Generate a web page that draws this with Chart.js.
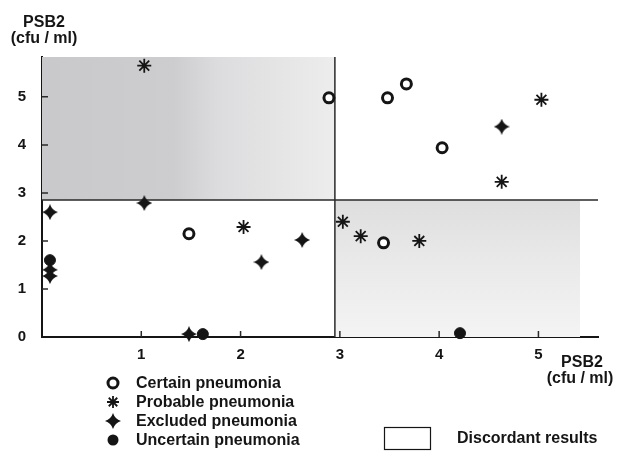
<!DOCTYPE html>
<html>
<head>
<meta charset="utf-8">
<style>
  html, body { margin: 0; padding: 0; background: #fff; }
  #wrap { width: 622px; height: 457px; }
</style>
<script src="https://cdn.jsdelivr.net/npm/chart.js@4/dist/chart.umd.min.js"></script>
</head>
<body>
<div id="wrap"><canvas id="canvasChart" width="622" height="457"></canvas></div>
<script>
// values (PSB2 vs PSB2, cfu/ml)
var certainX = [2.89, 3.48, 3.67, 4.03, 1.48, 3.44];
var certainY = [4.98, 4.98, 5.27, 3.94, 2.15, 1.96];
var probableX = [1.03, 5.03, 4.63, 2.03, 3.03, 3.21, 3.80];
var probableY = [5.65, 4.94, 3.23, 2.29, 2.40, 2.10, 2.00];
var excludedX = [0.08, 1.03, 0.08, 0.08, 2.21, 2.62, 1.48, 4.63];
var excludedY = [2.60, 2.79, 1.40, 1.27, 1.56, 2.02, 0.06, 4.38];
var uncertainX = [0.08, 1.62, 4.21];
var uncertainY = [1.60, 0.06, 0.08];

var seriesLabels = ["Certain pneumonia", "Probable pneumonia", "Excluded pneumonia", "Uncertain pneumonia"];
var discordantLabel = "Discordant results";
var axisTitle = ["PSB2", "(cfu / ml)"];
var cutX = 2.95;
var cutY = 2.85;
var xMax = 5.6;
var yMax = 5.83;

var FONT = '"Liberation Sans", Arial, sans-serif';
var INK = '#151515';

function pairs(xs, ys) {
    return xs.map(function (x, i) { return {x: x, y: ys[i]}; });
}

// four pointed star used for "Excluded"
function makeSpark(size) {
    var c = document.createElement('canvas');
    c.width = size; c.height = size;
    var g = c.getContext('2d');
    var m = size / 2, k = size * 0.12;
    g.fillStyle = INK;
    g.beginPath();
    g.moveTo(m, 0);
    g.quadraticCurveTo(m + k, m - k, size, m);
    g.quadraticCurveTo(m + k, m + k, m, size);
    g.quadraticCurveTo(m - k, m + k, 0, m);
    g.quadraticCurveTo(m - k, m - k, m, 0);
    g.fill();
    return c;
}
var spark = makeSpark(16);

function drawMarker(ctx, kind, x, y) {
    ctx.save();
    if (kind === 0) {
        ctx.beginPath();
        ctx.arc(x, y, 5, 0, Math.PI * 2);
        ctx.fillStyle = '#fff';
        ctx.fill();
        ctx.lineWidth = 3;
        ctx.strokeStyle = INK;
        ctx.stroke();
    } else if (kind === 1) {
        ctx.strokeStyle = INK;
        ctx.lineWidth = 1.8;
        ctx.beginPath();
        for (var a = 0; a < 4; a++) {
            var ang = a * Math.PI / 4;
            ctx.moveTo(x - 6 * Math.cos(ang), y - 6 * Math.sin(ang));
            ctx.lineTo(x + 6 * Math.cos(ang), y + 6 * Math.sin(ang));
        }
        ctx.stroke();
    } else if (kind === 2) {
        ctx.drawImage(spark, x - 8, y - 8);
    } else {
        ctx.beginPath();
        ctx.arc(x, y, 5.5, 0, Math.PI * 2);
        ctx.fillStyle = INK;
        ctx.fill();
    }
    ctx.restore();
}

var decor = {
    id: 'decor',
    beforeDatasetsDraw: function (chart) {
        var ctx = chart.ctx, xs = chart.scales.x, ys = chart.scales.y;
        var x0 = xs.getPixelForValue(0), xc = xs.getPixelForValue(cutX), x1 = xs.getPixelForValue(xMax);
        var y0 = ys.getPixelForValue(0), yc = ys.getPixelForValue(cutY), y1 = ys.getPixelForValue(yMax);
        ctx.save();
        // discordant zones
        var g1 = ctx.createLinearGradient(x0, 0, xc, 0);
        g1.addColorStop(0, '#c9c9cc');
        g1.addColorStop(0.45, '#cdcdd0');
        g1.addColorStop(0.6, '#dcdcde');
        g1.addColorStop(1, '#ededed');
        ctx.fillStyle = g1;
        ctx.fillRect(x0, y1, xc - x0, yc - y1);
        var g2 = ctx.createLinearGradient(0, yc, 0, y0);
        g2.addColorStop(0, '#dedede');
        g2.addColorStop(0.4, '#e8e8e8');
        g2.addColorStop(1, '#f4f4f4');
        ctx.fillStyle = g2;
        ctx.fillRect(xc, yc, x1 - xc - 18, y0 - yc);
        // cut-off lines
        ctx.strokeStyle = '#2a2a2a';
        ctx.lineWidth = 1.5;
        ctx.beginPath();
        ctx.moveTo(xc, y1);
        ctx.lineTo(xc, y0);
        ctx.moveTo(x0, yc);
        ctx.lineTo(x1, yc);
        ctx.stroke();
        // inward tick marks
        ctx.lineWidth = 1.5;
        ctx.beginPath();
        ys.ticks.forEach(function (t) {
            if (t.value === 0) return;
            var p = ys.getPixelForValue(t.value);
            ctx.moveTo(x0, p);
            ctx.lineTo(x0 + 6, p);
        });
        xs.ticks.forEach(function (t) {
            if (t.value === 0) return;
            var p = xs.getPixelForValue(t.value);
            ctx.moveTo(p, y0);
            ctx.lineTo(p, y0 - 6);
        });
        ctx.stroke();
        ctx.restore();
    },
    afterDraw: function (chart) {
        var ctx = chart.ctx;
        ctx.save();
        ctx.fillStyle = INK;
        ctx.font = 'bold 16px ' + FONT;
        ctx.textBaseline = 'middle';
        ctx.textAlign = 'center';
        ctx.fillText(axisTitle[0], 44, 23);
        ctx.fillText(axisTitle[1], 44, 39);
        ctx.fillText(axisTitle[0], 582, 363);
        ctx.fillText(axisTitle[1], 580, 379);
        // legend
        ctx.textAlign = 'left';
        seriesLabels.forEach(function (lab, i) {
            var y = 383 + i * 19;
            drawMarker(ctx, i, 113, y);
            ctx.fillStyle = INK;
            ctx.fillText(lab, 136, y + 1);
        });
        ctx.strokeStyle = INK;
        ctx.lineWidth = 1.2;
        ctx.strokeRect(384.5, 427.5, 46, 22);
        ctx.fillText(discordantLabel, 457, 439);
        ctx.restore();
    }
};

var common = {clip: false, borderColor: INK, backgroundColor: INK};

var chartConfig = {
    type: 'scatter',
    data: {
        datasets: [
            Object.assign({}, common, {label: seriesLabels[0], data: pairs(certainX, certainY),
                pointStyle: 'circle', pointRadius: 5, borderWidth: 3, backgroundColor: '#fff'}),
            Object.assign({}, common, {label: seriesLabels[1], data: pairs(probableX, probableY),
                pointStyle: 'star', pointRadius: 7, borderWidth: 1.8}),
            Object.assign({}, common, {label: seriesLabels[2], data: pairs(excludedX, excludedY),
                pointStyle: spark, pointRadius: 8}),
            Object.assign({}, common, {label: seriesLabels[3], data: pairs(uncertainX, uncertainY),
                pointStyle: 'circle', pointRadius: 5.5, borderWidth: 1})
        ]
    },
    options: {
        responsive: false,
        animation: false,
        layout: {padding: {top: 57, right: 24, left: 0, bottom: 0}},
        plugins: {
            legend: {display: false},
            tooltip: {enabled: false}
        },
        scales: {
            x: {
                type: 'linear',
                min: 0,
                max: xMax,
                afterFit: function (s) { s.height = 120; },
                grid: {drawOnChartArea: false, drawTicks: false},
                border: {display: true, color: INK, width: 2},
                ticks: {
                    stepSize: 1,
                    includeBounds: false,
                    padding: 9,
                    color: INK,
                    font: {family: FONT, size: 15, weight: 'bold'},
                    callback: function (v) { return v === 0 ? '' : v; }
                }
            },
            y: {
                type: 'linear',
                min: 0,
                max: yMax,
                afterFit: function (s) { s.width = 42; },
                grid: {drawOnChartArea: false, drawTicks: false},
                border: {display: true, color: INK, width: 2},
                ticks: {
                    stepSize: 1,
                    includeBounds: false,
                    padding: 16,
                    color: INK,
                    font: {family: FONT, size: 15, weight: 'bold'}
                }
            }
        }
    },
    plugins: [decor]
};

var chartObject = new Chart(document.getElementById("canvasChart").getContext('2d'), chartConfig);
</script>
</body>
</html>
